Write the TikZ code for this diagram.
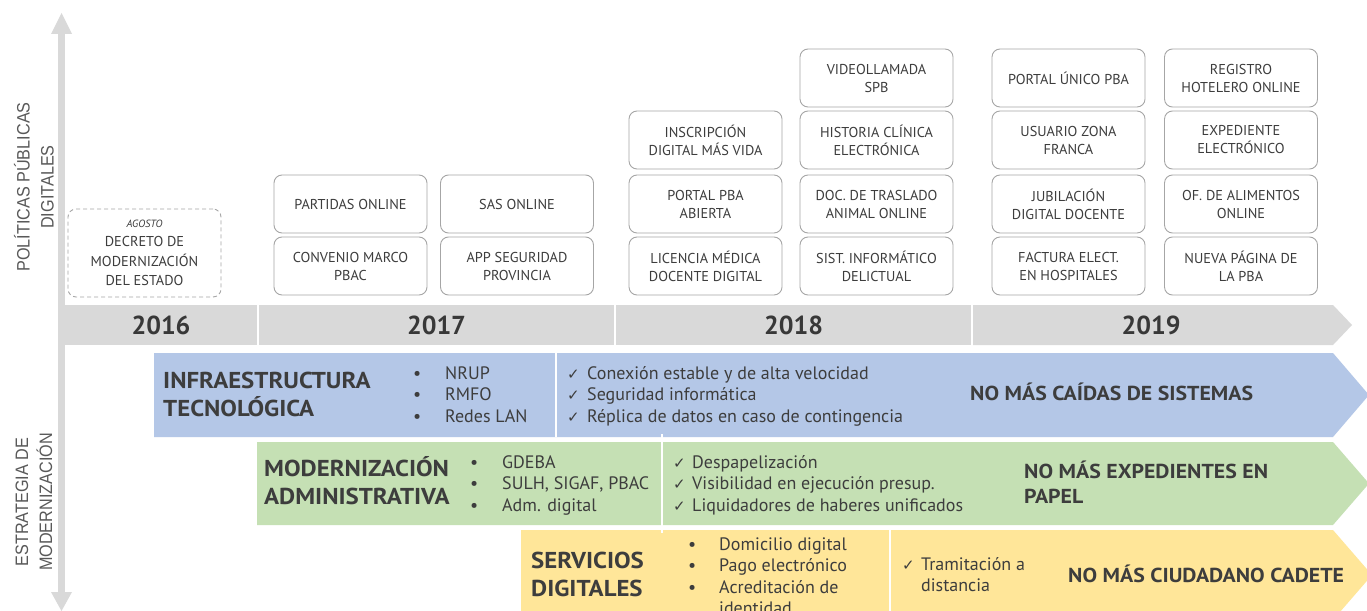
\documentclass[tikz,border=0pt]{standalone}
\usepackage{fontspec}
\setmainfont{PT Sans}
\newfontfamily\headfont[FakeStretch=1.08]{PT Sans}
\newfontfamily\labelfont[FakeStretch=0.9]{Liberation Sans}
\newfontfamily\symfont{DejaVu Sans}
\definecolor{barg}{HTML}{D9D9D9}
\definecolor{txt}{HTML}{3D3D3D}
\definecolor{yeartxt}{HTML}{383838}
\definecolor{boxln}{HTML}{A6A6A6}
\definecolor{bandb}{HTML}{B4C7E7}
\definecolor{bandg}{HTML}{C5E0B4}
\definecolor{bandy}{HTML}{FFE699}
\definecolor{lblg}{HTML}{595959}
\newcommand\rowsof[1]{\begin{tabular}{@{}l@{}}#1\end{tabular}}
\tikzset{
  pbox/.style={draw=boxln, line width=0.9pt, rounded corners=8pt, fill=white,
    minimum width=153pt, minimum height=58pt, align=center, text=txt,
    font=\fontsize{14.3}{18}\selectfont, inner sep=0pt},
  boxtext/.style={align=center, text=txt, inner sep=0pt, font=\fontsize{14.3}{19.5}\selectfont},
  yr/.style={font=\bfseries\fontsize{26}{26}\selectfont, text=yeartxt, inner sep=0pt},
  rows/.style={anchor=north west, inner sep=0pt, text=txt, font=\fontsize{18}{21.5}\selectfont},
  chk/.style={anchor=north west, inner sep=0pt, text=txt, font=\symfont\fontsize{15}{21.5}\selectfont},
  head/.style={anchor=north west, inner sep=0pt, text=txt, font=\headfont\bfseries\fontsize{23}{28}\selectfont},
  slogan/.style={anchor=base west, inner sep=0pt, text=txt, font=\headfont\bfseries\fontsize{20.2}{25}\selectfont},
  slogan2/.style={anchor=north west, inner sep=0pt, text=txt, font=\headfont\bfseries\fontsize{20.2}{25}\selectfont},
  axislbl/.style={rotate=90, text=lblg, font=\labelfont\fontsize{18}{24}\selectfont, align=center, inner sep=0pt},
  sep/.style={draw=white, line width=1.5pt}
}
\begin{document}
\begin{tikzpicture}[x=1pt,y=-1pt]
\useasboundingbox (0,0) rectangle (1367,610);
\fill[white] (0,0) rectangle (1367,610);
\begin{scope}
\clip (0,0) rectangle (1367,610);
% vertical axis
\fill[barg] (58,33) rectangle (65,305);
\fill[barg] (51,34) -- (61.5,13) -- (72,34) -- cycle;
\fill[barg] (58,345) rectangle (65,593);
\fill[barg] (51,592) -- (72,592) -- (61.5,611) -- cycle;
% timeline bar
\fill[barg] (58,305) rectangle (257,345);
\fill[barg] (259,305) rectangle (614,345);
\fill[barg] (616,305) rectangle (971,345);
\fill[barg] (973,305) -- (1333,305) -- (1352,325) -- (1333,345) -- (973,345) -- cycle;
% bands
\fill[bandb] (154,353) -- (1333,353) -- (1369,395) -- (1333,437) -- (154,437) -- cycle;
\fill[bandg] (257,442) -- (1333,442) -- (1369,483.5) -- (1333,525) -- (257,525) -- cycle;
\fill[bandy] (521,530) -- (1333,530) -- (1372,575) -- (1333,620) -- (521,620) -- cycle;
% separators
\draw[sep] (556,353) -- (556,437);
\draw[sep] (662,434) -- (662,533);
\draw[sep] (890,530) -- (890,611);
\end{scope}

% axis labels
\node[axislbl] (polit) at (34,187) {POLÍTICAS PÚBLICAS\\DIGITALES};
\node[axislbl] (estrat) at (34,502) {ESTRATEGIA DE\\MODERNIZACIÓN};

% years
\node[yr] (y2016) at (161,325) {2016};
\node[yr] (y2017) at (436.5,325) {2017};
\node[yr] (y2018) at (793.5,325) {2018};
\node[yr] (y2019) at (1151,325) {2019};

% 2016
\node[pbox, dashed, dash pattern=on 4pt off 3pt, minimum height=88pt] (decreto) at (144.5,253) {};
\node[boxtext, font=\itshape\fontsize{10.5}{12}\selectfont] (agosto) at (144.5,224) {AGOSTO};
\node[boxtext] (decretotxt) at (144.5,261) {DECRETO DE\\MODERNIZACIÓN\\DEL ESTADO};

% 2017
\node[pbox] (partidas) at (350.5,204) {PARTIDAS ONLINE};
\node[pbox] (convenio) at (350.5,266) {CONVENIO MARCO\\PBAC};
\node[pbox] (sas) at (517,204) {SAS ONLINE};
\node[pbox] (app) at (517,266) {APP SEGURIDAD\\PROVINCIA};
% 2018
\node[pbox] (inscr) at (705.5,140) {INSCRIPCIÓN\\DIGITAL MÁS VIDA};
\node[pbox] (portalpba) at (705.5,204) {PORTAL PBA\\ABIERTA};
\node[pbox] (licencia) at (705.5,266) {LICENCIA MÉDICA\\DOCENTE DIGITAL};
\node[pbox] (video) at (876.5,78) {VIDEOLLAMADA\\SPB};
\node[pbox] (historia) at (876.5,140) {HISTORIA CLÍNICA\\ELECTRÓNICA};
\node[pbox] (traslado) at (876.5,204) {DOC. DE TRASLADO\\ANIMAL ONLINE};
\node[pbox] (sist) at (876.5,266) {SIST. INFORMÁTICO\\DELICTUAL};
% 2019
\node[pbox] (portalunico) at (1068.5,78) {PORTAL ÚNICO PBA};
\node[pbox] (usuario) at (1068.5,140) {USUARIO ZONA\\FRANCA};
\node[pbox] (jubil) at (1068.5,204) {JUBILACIÓN\\DIGITAL DOCENTE};
\node[pbox] (factura) at (1068.5,266) {FACTURA ELECT.\\EN HOSPITALES};
\node[pbox] (registro) at (1241,78) {REGISTRO\\HOTELERO ONLINE};
\node[pbox] (expediente) at (1241,140) {EXPEDIENTE\\ELECTRÓNICO};
\node[pbox] (alimentos) at (1241,204) {OF. DE ALIMENTOS\\ONLINE};
\node[pbox] (nueva) at (1241,266) {NUEVA PÁGINA DE\\LA PBA};

% blue band
\node[head] (infra) at (163,368.4) {\rowsof{INFRAESTRUCTURA\\TECNOLÓGICA}};
\node[rows] (blueb) at (413,364) {\rowsof{•\\•\\•}};
\node[rows] (bluel) at (445,364) {\rowsof{NRUP\\RMFO\\Redes LAN}};
\node[chk] (bluec) at (567,364) {\rowsof{✓\\✓\\✓}};
\node[rows] (bluet) at (587,364) {\rowsof{Conexión estable y de alta velocidad\\Seguridad informática\\Réplica de datos en caso de contingencia}};
\node[slogan] (bluesl) at (970,400) {NO MÁS CAÍDAS DE SISTEMAS};

% green band
\node[head] (moder) at (264,455.9) {\rowsof{MODERNIZACIÓN\\ADMINISTRATIVA}};
\node[rows] (greenb) at (470,453) {\rowsof{•\\•\\•}};
\node[rows] (greenl) at (502,453) {\rowsof{GDEBA\\SULH, SIGAF, PBAC\\Adm. digital}};
\node[chk] (greenc) at (673,453) {\rowsof{✓\\✓\\✓}};
\node[rows] (greent) at (692,453) {\rowsof{Despapelización\\Visibilidad en ejecución presup.\\Liquidadores de haberes unificados}};
\node[slogan2] (greensl) at (1024,460.5) {\rowsof{NO MÁS EXPEDIENTES EN\\PAPEL}};

% yellow band
\node[head] (serv) at (531,548.4) {\rowsof{SERVICIOS\\DIGITALES}};
\node[rows] (yellowb) at (688,535) {\rowsof{•\\•\\•}};
\node[rows] (yellowl) at (719,535) {\rowsof{Domicilio digital\\Pago electrónico\\Acreditación de\\identidad}};
\node[chk] (yellowc) at (902,555) {\rowsof{✓}};
\node[rows] (yellowt) at (921,555) {\rowsof{Tramitación a\\distancia}};
\node[slogan] (yellowsl) at (1068,582) {NO MÁS CIUDADANO CADETE};
\end{tikzpicture}
\end{document}
